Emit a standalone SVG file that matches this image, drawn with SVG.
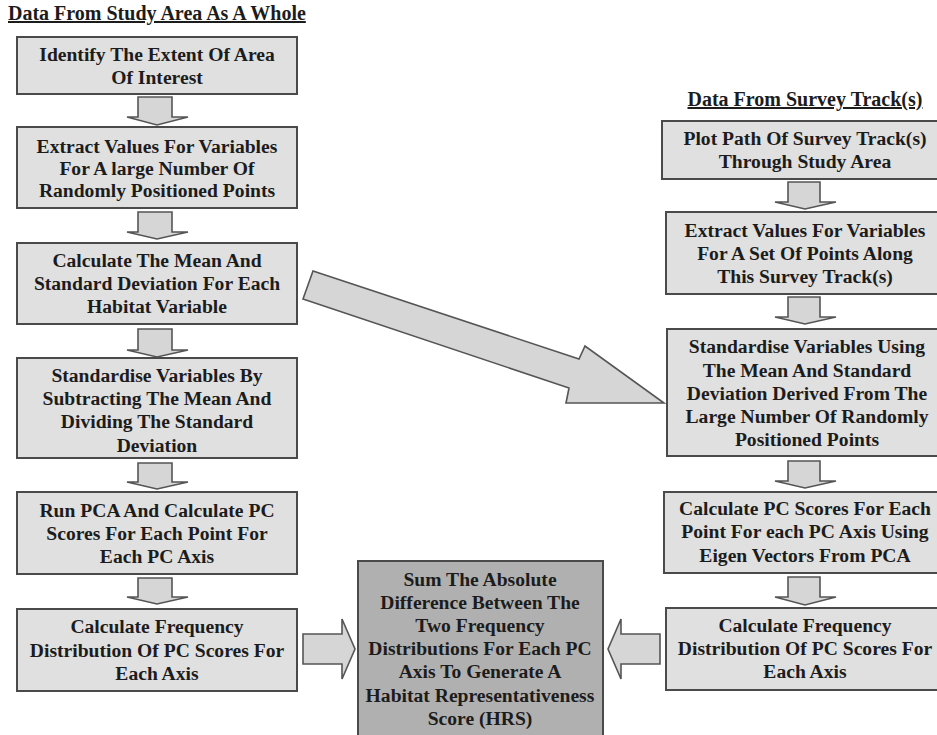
<svg xmlns="http://www.w3.org/2000/svg" width="937" height="735" viewBox="0 0 937 735">
<style>
.t{font-family:"Liberation Serif","Times New Roman",serif;font-weight:bold;font-size:19.6px;fill:#1c1c1c;text-anchor:middle}
.h{font-family:"Liberation Serif","Times New Roman",serif;font-weight:bold;font-size:20px;fill:#1c1c1c;text-decoration:underline}
.b{fill:#e0e0e0;stroke:#4a4a4a;stroke-width:2}
.c{fill:#b0b0b0;stroke:#4a4a4a;stroke-width:2}
.a{fill:#d6d6d6;stroke:#555;stroke-width:1.6;stroke-linejoin:miter}
</style>
<rect width="937" height="735" fill="#fff"/>
<text class="h" x="8" y="20">Data From Study Area As A Whole</text>
<text class="h" x="805" y="106" text-anchor="middle">Data From Survey Track(s)</text>

<g id="connectors">
<polygon class="a" points="138,97 172,97 172,117 188,117 157,125 127,117 138,117"/>
<polygon class="a" points="138,212 172,212 172,232 188,232 157,239 127,232 138,232"/>
<polygon class="a" points="138,329 172,329 172,350 188,350 157,357 127,350 138,350"/>
<polygon class="a" points="138,463 172,463 172,482 188,482 157,489 127,482 138,482"/>
<polygon class="a" points="138,578 172,578 172,597 188,597 157,604 127,597 138,597"/>
<polygon class="a" points="788,182 820,182 820,202 836,202 805,209 775,202 788,202"/>
<polygon class="a" points="788,297 820,297 820,317 836,317 805,324 775,317 788,317"/>
<polygon class="a" points="788,461 820,461 820,481 836,481 805,488 775,481 788,481"/>
<polygon class="a" points="788,577 820,577 820,597 836,597 805,605 775,597 788,597"/>
<polygon class="a" points="313,271 579,359 585,346 664,403 566,403 569,388 303,299"/>
<polygon class="a" points="303,634 342,634 342,619 355,649 342,679 342,664 303,664"/>
<polygon class="a" points="660,634 621,634 621,619 608,649 621,679 621,664 660,664"/>
</g>

<g id="n1"><rect class="b" x="17" y="37" width="280" height="57"/>
<text class="t" x="157" y="61">Identify The Extent Of Area</text>
<text class="t" x="157" y="84">Of Interest</text></g>

<g id="n2"><rect class="b" x="17" y="127" width="280" height="81"/>
<text class="t" x="157" y="153">Extract Values For Variables</text>
<text class="t" x="157" y="175">For A large Number Of</text>
<text class="t" x="157" y="197">Randomly Positioned Points</text></g>

<g id="n3"><rect class="b" x="17" y="243" width="280" height="81"/>
<text class="t" x="157" y="267">Calculate The Mean And</text>
<text class="t" x="157" y="290">Standard Deviation For Each</text>
<text class="t" x="157" y="313">Habitat Variable</text></g>

<g id="n4"><rect class="b" x="17" y="358" width="280" height="100"/>
<text class="t" x="157" y="382">Standardise Variables By</text>
<text class="t" x="157" y="405">Subtracting The Mean And</text>
<text class="t" x="157" y="428">Dividing The Standard</text>
<text class="t" x="157" y="452">Deviation</text></g>

<g id="n5"><rect class="b" x="17" y="492" width="280" height="82"/>
<text class="t" x="157" y="517">Run PCA And Calculate PC</text>
<text class="t" x="157" y="540">Scores For Each Point For</text>
<text class="t" x="157" y="563">Each PC Axis</text></g>

<g id="n6"><rect class="b" x="17" y="609" width="280" height="82"/>
<text class="t" x="157" y="633">Calculate Frequency</text>
<text class="t" x="157" y="657">Distribution Of PC Scores For</text>
<text class="t" x="157" y="680">Each Axis</text></g>

<g id="n7"><rect class="c" x="358" y="561" width="245" height="180"/>
<text class="t" x="480" y="586">Sum The Absolute</text>
<text class="t" x="480" y="609">Difference Between The</text>
<text class="t" x="480" y="632">Two Frequency</text>
<text class="t" x="480" y="655">Distributions For Each PC</text>
<text class="t" x="480" y="678">Axis To Generate A</text>
<text class="t" x="480" y="702">Habitat Representativeness</text>
<text class="t" x="480" y="725">Score (HRS)</text></g>

<g id="r1"><rect class="b" x="662" y="121" width="285" height="58"/>
<text class="t" x="805" y="145">Plot Path Of Survey Track(s)</text>
<text class="t" x="805" y="168">Through Study Area</text></g>

<g id="r2"><rect class="b" x="666" y="212" width="285" height="82"/>
<text class="t" x="805" y="237">Extract Values For Variables</text>
<text class="t" x="805" y="260">For A Set Of Points Along</text>
<text class="t" x="805" y="283">This Survey Track(s)</text></g>

<g id="r3"><rect class="b" x="667" y="329" width="285" height="127"/>
<text class="t" x="807" y="353">Standardise Variables Using</text>
<text class="t" x="807" y="377">The Mean And Standard</text>
<text class="t" x="807" y="400">Deviation Derived From The</text>
<text class="t" x="807" y="423">Large Number Of Randomly</text>
<text class="t" x="807" y="446">Positioned Points</text></g>

<g id="r4"><rect class="b" x="664" y="492" width="285" height="81"/>
<text class="t" x="805" y="515">Calculate PC Scores For Each</text>
<text class="t" x="805" y="538">Point For each PC Axis Using</text>
<text class="t" x="805" y="562">Eigen Vectors From PCA</text></g>

<g id="r5"><rect class="b" x="666" y="608" width="285" height="82"/>
<text class="t" x="805" y="632">Calculate Frequency</text>
<text class="t" x="805" y="655">Distribution Of PC Scores For</text>
<text class="t" x="805" y="678">Each Axis</text></g>
</svg>
